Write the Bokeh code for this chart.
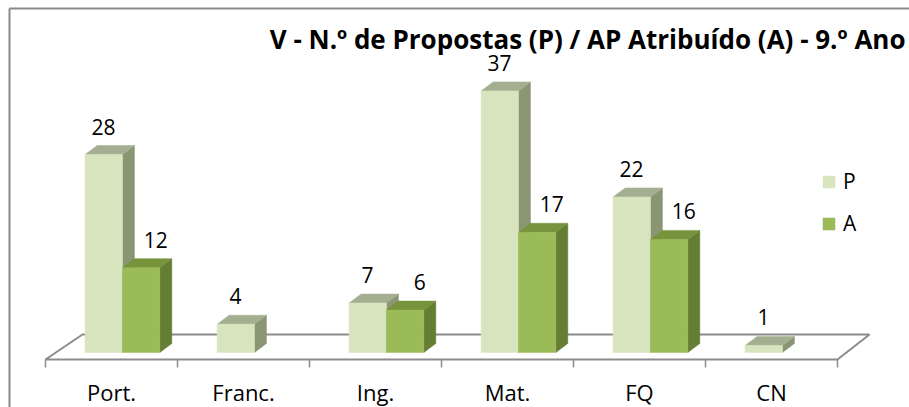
from bokeh.plotting import figure
from bokeh.models import ColumnDataSource, Legend, LegendItem, Range1d
from bokeh.core.properties import value
from bokeh.embed import file_html
from bokeh.resources import INLINE

# ---------------- data ----------------
categories = ["Port.", "Franc.", "Ing.", "Mat.", "FQ", "CN"]
propostas = [28, 4, 7, 37, 22, 1]      # P
atribuido = [12, 0, 6, 17, 16, 0]      # A
series_labels = ["P", "A"]
title_text = "V - N.º de Propostas (P) / AP Atribuído (A) - 9.º Ano"

# ---------------- layout constants ----------------
W, H = 909, 407
X0_PX = 45.0     # px (from left) of x = 0
SX = 132.0       # px per category
Y0_PY = 352.0    # px (from top) of value 0
SY = 7.07        # px per unit
TXT_FIX = 8.0    # text renders a little low; lift it

def px_x(px):
    return (px - X0_PX) / SX

def px_y(py):  # py measured from top of figure
    return (Y0_PY - py) / SY

FONT = "Open Sans"
P_FRONT, P_TOP, P_SIDE = "#D7E4BD", "#A4AF91", "#8A9574"
A_FRONT, A_TOP, A_SIDE = "#9BBB59", "#77933C", "#667E34"
GRID_GRAY = "#8C8C8C"

BAR_W = 0.283
P_OFF = -0.2
A_OFF = P_OFF + BAR_W
DX = 12.0 / SX
DY = 9.0 / SY

p = figure(width=W, height=H, output_backend="svg", toolbar_location=None,
           x_axis_type=None, y_axis_type=None, title=None,
           x_range=Range1d(px_x(0), px_x(W)), y_range=Range1d(px_y(H), px_y(0)),
           min_border=0, tools="")
p.grid.visible = False
p.outline_line_color = None
p.background_fill_color = "white"
p.border_fill_color = "white"

# chart border (left & top visible)
p.segment(x0=[px_x(9), px_x(9)], y0=[px_y(8), px_y(8)],
          x1=[px_x(9), px_x(W)], y1=[px_y(H), px_y(8)],
          line_color="#8A8A8A", line_width=2)

# floor
n = len(categories)
floor_front = px_y(359)
floor_back = px_y(334)
floor_shift_l = 37.0 / SX
floor_shift_r = 32.0 / SX
p.patch([0, floor_shift_l, n + floor_shift_r, n],
        [floor_front, floor_back, floor_back, floor_front],
        fill_color="white", line_color=GRID_GRAY, line_width=2)

# tick marks
tick_x = list(range(n + 1))
p.segment(x0=tick_x, y0=[floor_front] * (n + 1), x1=tick_x,
          y1=[px_y(367)] * (n + 1), line_color=GRID_GRAY, line_width=1.5)

# category labels
cat_src = ColumnDataSource(dict(x=[i + 0.5 for i in range(n)],
                                y=[px_y(399 - TXT_FIX)] * n, t=categories))
p.text(x="x", y="y", text="t", source=cat_src, text_align="center",
       text_baseline="alphabetic", text_font=value(FONT),
       text_font_size="22px", text_color="black")


def draw_series(vals, x_off, front, top, side):
    xc = [i + 0.5 for i, v in enumerate(vals) if v > 0]
    vs = [v for v in vals if v > 0]
    x0 = [c + x_off for c in xc]
    x1 = [a + BAR_W for a in x0]
    side_src = ColumnDataSource(dict(
        xs=[[b, b + DX, b + DX, b] for b in x1],
        ys=[[0, DY, v + DY, v] for v in vs]))
    top_src = ColumnDataSource(dict(
        xs=[[a, a + DX, b + DX, b] for a, b in zip(x0, x1)],
        ys=[[v, v + DY, v + DY, v] for v in vs]))
    p.patches(xs="xs", ys="ys", source=side_src, fill_color=side,
              line_color=side, line_width=0.5)
    p.patches(xs="xs", ys="ys", source=top_src, fill_color=top,
              line_color=top, line_width=0.5)
    front_src = ColumnDataSource(dict(left=x0, right=x1, top=vs,
                                      bottom=[0] * len(vs)))
    r = p.quad(left="left", right="right", top="top", bottom="bottom",
               source=front_src, fill_color=front, line_color=front,
               line_width=0.5)
    return r, xc, vs


rP, xcP, vP = draw_series(propostas, P_OFF, P_FRONT, P_TOP, P_SIDE)
rA, xcA, vA = draw_series(atribuido, A_OFF, A_FRONT, A_TOP, A_SIDE)

# value labels (baseline ~20px above the bar's front top)
LBL_DY = (20.0 + TXT_FIX) / SY
lblP = ColumnDataSource(dict(x=[c - 0.06 for c in xcP], y=[v + LBL_DY for v in vP],
                             t=[str(v) for v in vP]))
lblA = ColumnDataSource(dict(x=[c + 0.335 for c in xcA], y=[v + LBL_DY for v in vA],
                             t=[str(v) for v in vA]))
for src in (lblP, lblA):
    p.text(x="x", y="y", text="t", source=src, text_align="center",
           text_baseline="alphabetic", text_font=value(FONT),
           text_font_size="21px", text_color="black")

# title
p.text(x=[px_x(905)], y=[px_y(46 - TXT_FIX)], text=[title_text], text_align="right",
       text_baseline="alphabetic", text_font=value(FONT),
       text_font_size="26px", text_font_style="bold", text_color="black")

# legend
legend = Legend(items=[LegendItem(label=series_labels[0], renderers=[rP]),
                       LegendItem(label=series_labels[1], renderers=[rA])],
                location=(821, 170), orientation="vertical",
                glyph_width=15, glyph_height=15, label_standoff=7,
                spacing=14, padding=0, margin=0,
                border_line_color=None, background_fill_alpha=0,
                label_text_font=FONT, label_text_font_size="21px",
                label_text_color="black")
p.add_layout(legend)

open("out.html", "w").write(file_html(p, INLINE))
